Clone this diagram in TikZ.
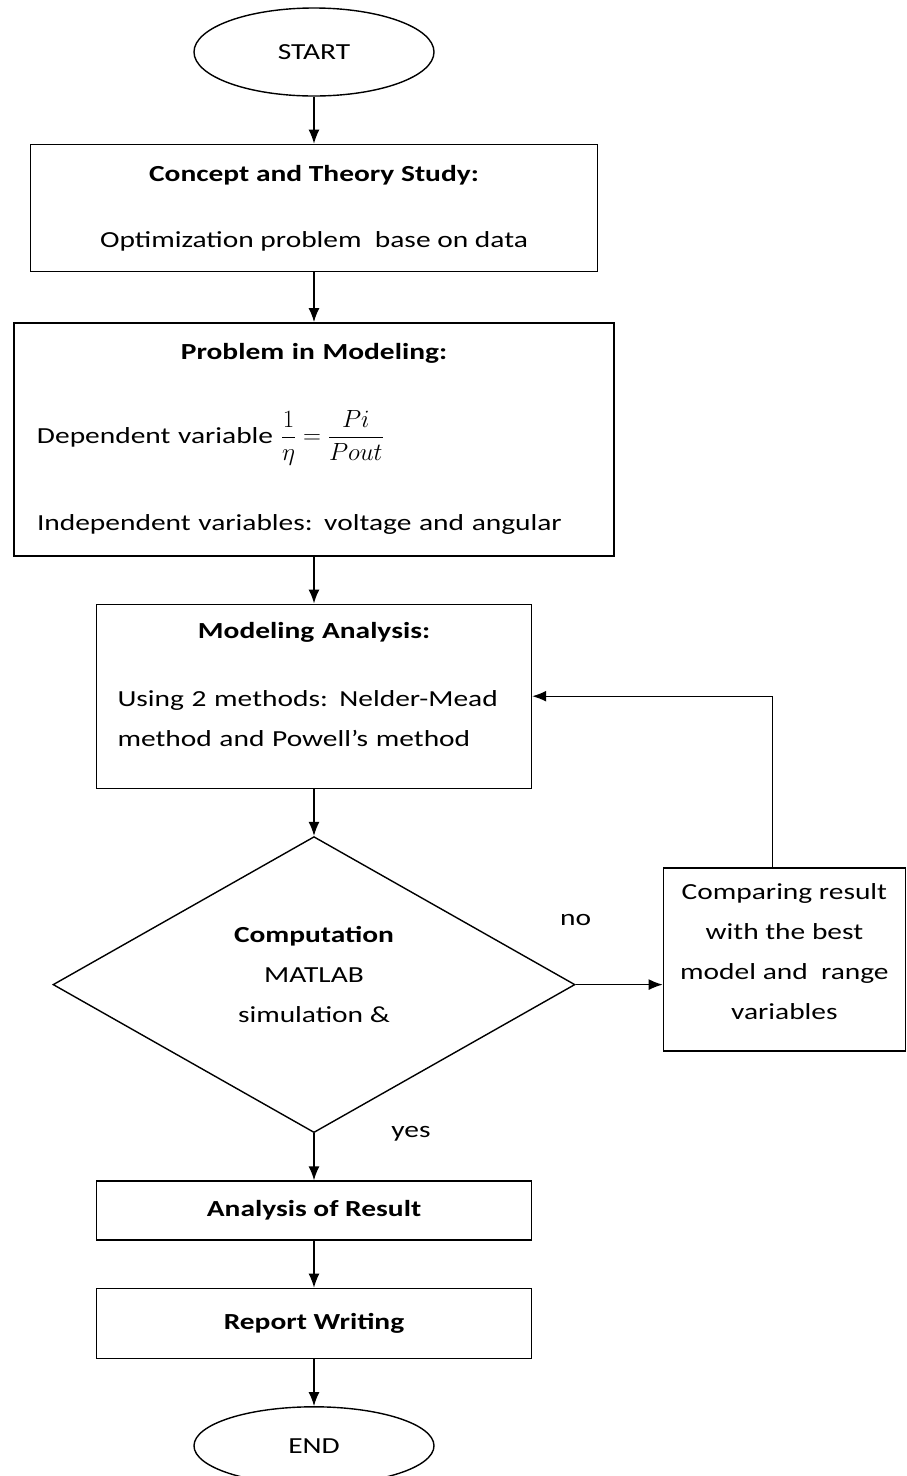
\documentclass[tikz,border=0pt]{standalone}
\usepackage{amsmath}
\usepackage{fontspec}
\setmainfont{Carlito}[FakeStretch=1.28]
\usetikzlibrary{shapes.geometric, positioning, arrows.meta}
\setlength{\parindent}{0pt}

\begin{document}
\begin{tikzpicture}[x=1pt, y=1pt, >={Latex[length=14pt,width=11pt]}, node distance=47pt, line width=1.4pt,
    font=\fontsize{23}{40}\selectfont,
    terminal/.style={ellipse, draw, minimum width=240pt, minimum height=88pt, inner sep=0pt},
    box/.style={rectangle, draw, inner sep=0pt},
    decision/.style={diamond, draw, aspect=1.76, minimum width=522pt, minimum height=296pt, inner sep=0pt, align=center}]
    \useasboundingbox (0,0) rectangle (907,-1476);

    \node[terminal] (start) at (314,-52) {START};
    \node[box, minimum width=567pt, minimum height=127pt, align=center] (concept) [below=of start]
        {\textbf{Concept and Theory Study:}\\[26pt] Optimization problem~ base on data};
    \node[box, minimum width=600pt, minimum height=233pt, text width=554pt] (model) [below=50pt of concept]
        {{\centering\textbf{Problem in Modeling:}\par}\vspace{44pt}
         Dependent variable $\dfrac{1}{\eta}=\dfrac{Pi}{Pout}$\par\vspace{47pt}
         Independent variables: voltage and angular};
    \node[box, minimum width=435pt, minimum height=184pt, text width=393pt, text depth=132pt] (anal) [below=of model]
        {{\centering\textbf{Modeling Analysis:}\par}\vspace{28pt}
         Using 2 methods: Nelder-Mead\par
         method and Powell's method};
    \node[decision, text depth=21pt] (comp) [below=of anal] {\textbf{Computation}\\MATLAB\\simulation \&};
    \node[box, minimum width=242pt, minimum height=183pt, align=center, text depth=17pt] (cmp) [right=87pt of comp, yshift=25pt]
        {Comparing result\\with the best\\model and~ range\\variables};
    \node[box, minimum width=435pt, minimum height=59pt] (result) [below=of comp] {\textbf{Analysis of Result}};
    \node[box, minimum width=435pt, minimum height=70pt] (report) [below=of result] {\textbf{Report Writing}};
    \node[terminal, minimum height=78pt] (stop) [below=of report] {END};

    \node (no) at ([yshift=65pt]comp.east) {no};
    \node (yes) at ([xshift=97pt]comp.south) {yes};

    \path[->]
    (start) edge (concept)
    (concept) edge (model)
    (model) edge (anal)
    (anal) edge (comp)
    (comp) edge (result)
    (result) edge (report)
    (report) edge (stop)
    (comp.east) edge (comp.east -| cmp.west);
    \draw[->] ([xshift=-12pt]cmp.north) |- (anal.east);
\end{tikzpicture}
\end{document}
